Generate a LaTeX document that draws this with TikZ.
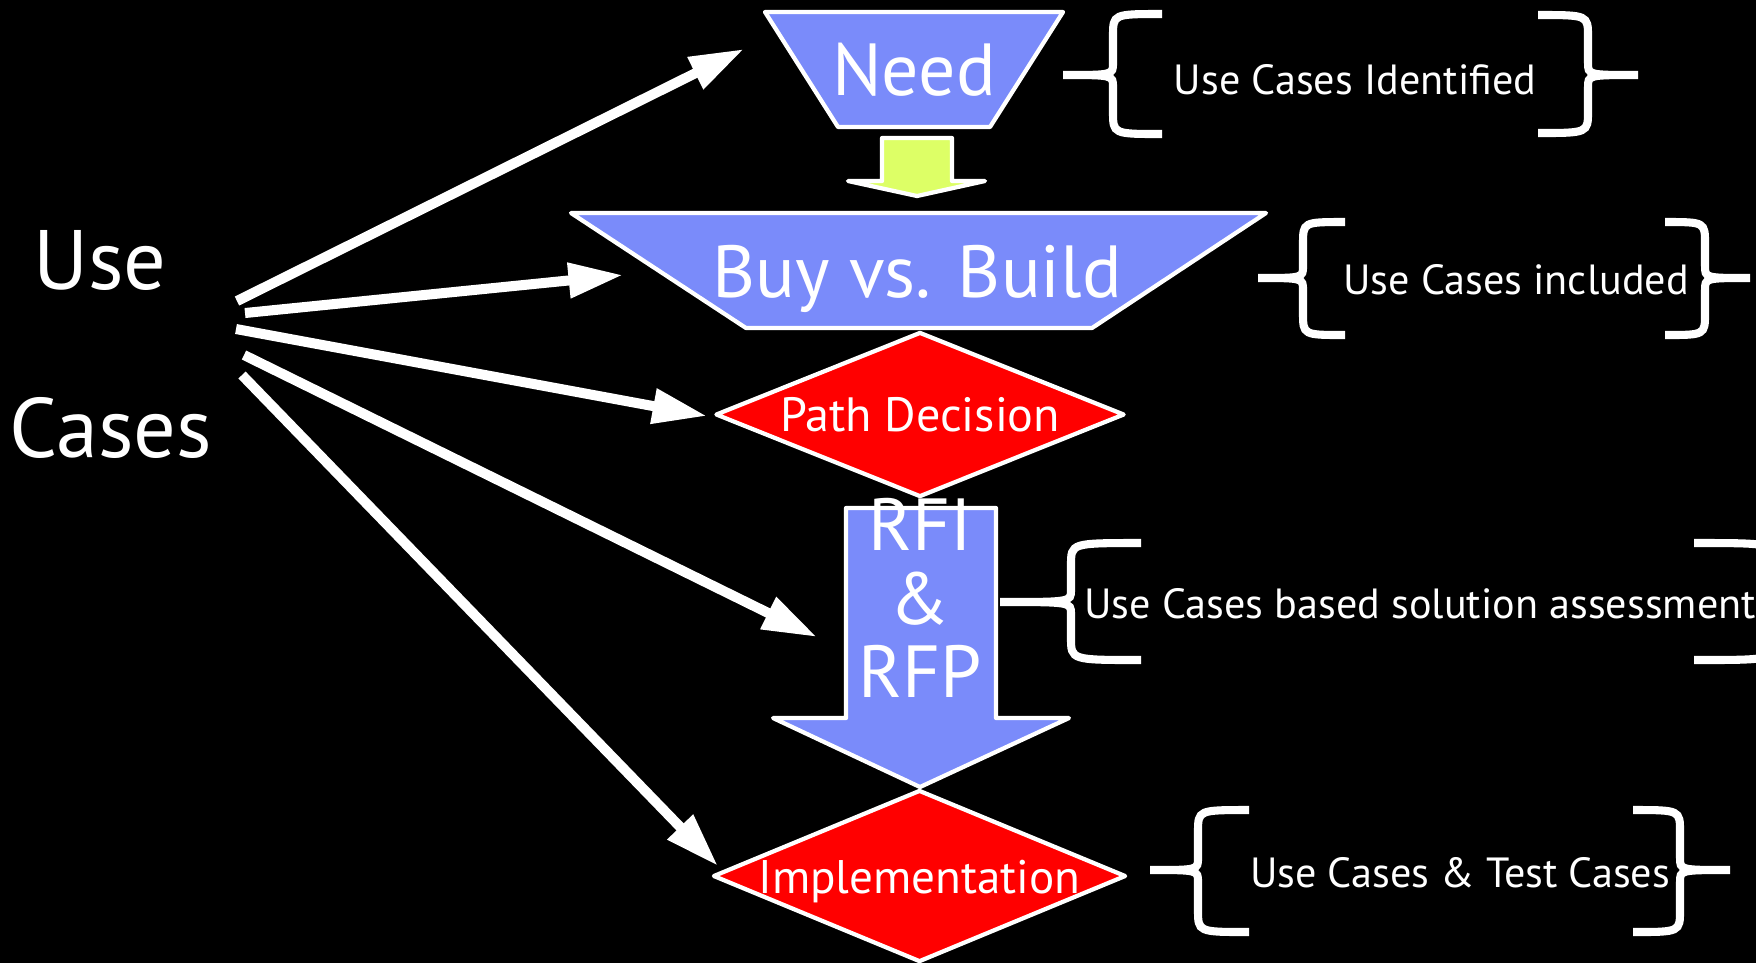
\documentclass[tikz,border=0pt]{standalone}
\usepackage{fontspec}
\setmainfont{PT Sans}
\usetikzlibrary{arrows.meta,calc,positioning,shapes.geometric}

\definecolor{stepblue}{RGB}{122,139,250}
\definecolor{limefill}{RGB}{221,255,102}

\tikzset{
  flow/.style={white, line width=2.85pt, -{Triangle[length=15.5pt,width=9.5pt]}},
  outline/.style={draw=white, line width=1.2pt, line join=round},
  steptext/.style={text=white, inner sep=0pt, font=\fontsize{21}{25}\selectfont},
  decision/.style={diamond, outline, fill=red, inner sep=0pt},
  curly/.style={white, line width=2.3pt},
  note/.style={text=white, font=\fontsize{12}{14}\selectfont},
  bigword/.style={text=white, font=\fontsize{24}{28}\selectfont},
}

% #1 tip x, #2 spine x, #3 end x, #4 top y, #5 middle y, #6 bottom y
\newcommand{\curlybrace}[6]{%
  \draw[curly] (#3,#4) .. controls (#2,#4) .. (#2,#4-0.22) -- (#2,#5+0.12)
    .. controls (#2,#5) .. (#1,#5) .. controls (#2,#5) .. (#2,#5-0.12)
    -- (#2,#6+0.22) .. controls (#2,#6) .. (#3,#6);
}

\begin{document}
\begin{tikzpicture}
\useasboundingbox (0,0) rectangle (17.56,-9.63);
\fill[black] (0,0) rectangle (17.56,-9.63);

% Use Cases
\node[bigword, anchor=base] (use) at (1.00,-2.89) {Use};
\node[bigword, anchor=base] (cases) at (1.11,-4.57) {Cases};

% Funnel steps
\draw[outline, fill=stepblue] (7.65,-0.12) -- (10.63,-0.12) -- (9.90,-1.27) -- (8.38,-1.27) -- cycle;
\node[steptext] (need) at (9.14,-0.70) {Need};
\draw[outline, fill=stepblue] (5.71,-2.13) -- (12.66,-2.13) -- (10.92,-3.28) -- (7.46,-3.28) -- cycle;
\node[steptext] (buy) at (9.17,-2.785) {Buy vs. Build};

% small arrow between Need and Buy vs. Build
\draw[outline, fill=limefill] (8.82,-1.38) -- (9.52,-1.38) -- (9.52,-1.81)
  -- (9.85,-1.81) -- (9.17,-1.96) -- (8.48,-1.81) -- (8.82,-1.81) -- cycle;

% Path decision
\node[decision, minimum width=4.09cm, minimum height=1.65cm] (path) at (9.20,-4.145) {};
\node[text=white, font=\fontsize{13.7}{16}\selectfont] (pathtext) at (path) {Path Decision};

% RFI & RFP block arrow
\draw[outline, fill=stepblue] (8.46,-5.08) -- (9.96,-5.08) -- (9.96,-7.18)
  -- (10.69,-7.18) -- (9.20,-7.87) -- (7.73,-7.18) -- (8.46,-7.18) -- cycle;
\node[text=white, align=center, font=\fontsize{21}{20.9}\selectfont] (rfx) at (9.20,-5.98) {RFI\\\&\\RFP};

% Implementation
\node[decision, minimum width=4.13cm, minimum height=1.72cm] (impl) at (9.195,-8.76) {};
\node[text=white, font=\fontsize{13.4}{16}\selectfont] (impltext) at (9.195,-8.82) {Implementation};

% arrows out of Use Cases
\coordinate (s1) at (2.37,-3.01);
\coordinate (s2) at (2.45,-3.13);
\coordinate (s3) at (2.36,-3.29);
\coordinate (s4) at (2.44,-3.55);
\coordinate (s5) at (2.42,-3.75);
\coordinate (toneed) at (7.44,-0.49);
\coordinate (tobuy) at (6.23,-2.75);
\coordinate (topath) at (7.07,-4.16);
\coordinate (torfx) at (8.17,-6.37);
\coordinate (toimpl) at (7.18,-8.66);
\draw[flow] (s1) -- (toneed);
\draw[flow] (s2) -- (tobuy);
\draw[flow] (s3) -- (topath);
\draw[flow] (s4) -- (torfx);
\draw[flow] (s5) -- (toimpl);

% braces and notes
\curlybrace{10.63}{11.13}{11.62}{-0.14}{-0.75}{-1.34}
\curlybrace{16.38}{15.88}{15.38}{-0.15}{-0.75}{-1.33}
\node[note] (n1) at (13.55,-0.80) {Use Cases Identified};

\curlybrace{12.58}{13.03}{13.45}{-2.22}{-2.78}{-3.35}
\curlybrace{17.50}{17.05}{16.65}{-2.22}{-2.78}{-3.35}
\node[note] (n2) at (15.16,-2.80) {Use Cases included};

\curlybrace{10.00}{10.71}{11.41}{-5.43}{-6.02}{-6.60}
\curlybrace{18.20}{17.75}{16.94}{-5.43}{-6.02}{-6.60}
\node[note] (n3) at (14.20,-6.04) {Use Cases based solution assessment};

\curlybrace{11.50}{11.98}{12.49}{-8.10}{-8.70}{-9.32}
\curlybrace{17.30}{16.80}{16.33}{-8.10}{-8.70}{-9.32}
\node[note] (n4) at (14.60,-8.73) {Use Cases \& Test Cases};
\end{tikzpicture}
\end{document}
